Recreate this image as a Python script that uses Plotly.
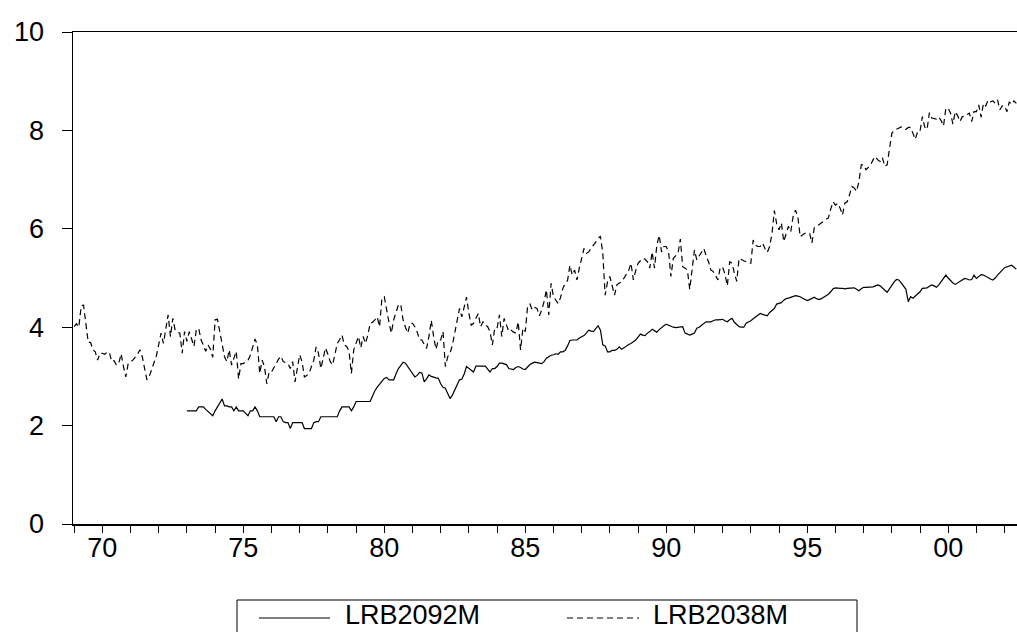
import plotly.graph_objects as go

# ---------------- data (monthly) ----------------
# LRB2038M : monthly, 1969M01 .. 2002M06
lrb2038m_start = (1969, 1)
lrb2038m = [
    # 1969
    4.01, 4.07, 4.00, 4.43, 4.45, 4.01, 3.69, 3.69, 3.54, 3.50, 3.33, 3.47,
    # 1970
    3.47, 3.45, 3.49, 3.49, 3.30, 3.32, 3.23, 3.26, 3.46, 3.20, 2.99, 3.26,
    # 1971
    3.30, 3.33, 3.39, 3.45, 3.54, 3.40, 3.16, 2.93, 3.00, 3.12, 3.28, 3.42,
    # 1972
    3.65, 3.88, 3.67, 4.00, 4.25, 3.81, 4.18, 3.94, 3.90, 3.88, 3.47, 3.91,
    # 1973
    3.71, 3.91, 3.75, 3.61, 3.94, 3.98, 3.75, 3.61, 3.51, 3.64, 3.55, 3.39,
    # 1974
    4.15, 4.16, 3.88, 3.60, 3.40, 3.30, 3.54, 3.23, 3.35, 3.51, 2.95, 3.26,
    # 1975
    3.26, 3.30, 3.33, 3.43, 3.60, 3.76, 3.64, 3.06, 3.33, 3.20, 2.85, 3.09,
    # 1976
    3.09, 3.18, 3.26, 3.35, 3.41, 3.30, 3.28, 3.26, 3.16, 3.30, 2.89, 3.20,
    # 1977
    3.44, 3.30, 2.99, 3.02, 3.06, 3.20, 3.33, 3.60, 3.47, 3.16, 3.40, 3.58,
    # 1978
    3.45, 3.30, 3.23, 3.45, 3.67, 3.75, 3.84, 3.64, 3.61, 3.51, 3.06, 3.54,
    # 1979
    3.70, 3.81, 3.58, 3.81, 3.67, 3.84, 4.08, 4.10, 4.15, 4.21, 4.01, 4.59,
    # 1980
    4.62, 4.32, 4.10, 3.88, 4.15, 4.30, 4.45, 4.47, 4.15, 4.00, 3.88, 4.08,
    # 1981
    4.08, 4.01, 3.90, 3.75, 3.74, 3.65, 3.57, 3.81, 4.14, 3.81, 3.55, 3.74,
    # 1982
    3.74, 3.91, 3.20, 3.40, 3.47, 3.64, 3.90, 4.15, 4.38, 4.21, 4.40, 4.61,
    # 1983
    4.28, 4.04, 4.08, 4.20, 4.28, 4.01, 4.11, 4.05, 4.01, 3.91, 3.64, 3.98,
    # 1984
    3.98, 4.25, 3.81, 4.18, 4.05, 3.91, 3.94, 3.90, 3.88, 4.11, 3.54, 3.98,
    # 1985
    3.91, 4.43, 4.47, 4.35, 4.40, 4.38, 4.23, 4.35, 4.52, 4.76, 4.25, 4.89,
    # 1986
    4.62, 4.55, 4.48, 4.60, 4.79, 4.89, 4.95, 5.26, 5.06, 5.16, 4.96, 5.20,
    # 1987
    5.40, 5.60, 5.50, 5.53, 5.60, 5.67, 5.74, 5.80, 5.85, 5.50, 4.65, 4.92,
    # 1988
    5.03, 4.85, 4.65, 4.86, 4.90, 4.92, 5.00, 5.09, 5.15, 5.30, 4.96, 5.15,
    # 1989
    5.30, 5.35, 5.40, 5.38, 5.33, 5.20, 5.53, 5.20, 5.67, 5.87, 5.53, 5.64,
    # 1990
    5.64, 5.53, 5.03, 5.40, 5.45, 5.50, 5.79, 5.23, 5.20, 5.16, 4.77, 5.16,
    # 1991
    5.57, 5.37, 5.45, 5.53, 5.60, 5.45, 5.33, 5.16, 5.13, 5.05, 4.96, 5.22,
    # 1992
    5.22, 5.08, 4.84, 5.33, 5.30, 5.10, 4.93, 5.40, 5.37, 5.35, 5.33, 5.30,
    # 1993
    5.30, 5.77, 5.67, 5.64, 5.64, 5.71, 5.60, 5.52, 5.64, 5.90, 6.37, 6.10,
    # 1994
    5.98, 6.12, 5.74, 5.90, 6.05, 5.94, 6.25, 6.38, 6.25, 5.84, 5.88, 5.91,
    # 1995
    5.91, 5.91, 5.71, 6.02, 6.05, 6.08, 6.12, 6.15, 6.19, 6.22, 6.40, 6.55,
    # 1996
    6.48, 6.52, 6.42, 6.28, 6.52, 6.55, 6.69, 6.86, 6.83, 6.76, 6.96, 7.30,
    # 1997
    7.30, 7.20, 7.25, 7.30, 7.40, 7.47, 7.40, 7.37, 7.45, 7.27, 7.30, 7.60,
    # 1998
    7.94, 8.00, 8.02, 8.04, 8.07, 8.05, 8.02, 8.06, 8.06, 7.94, 7.82, 7.98,
    # 1999
    7.98, 8.28, 8.07, 8.02, 8.36, 8.25, 8.24, 8.23, 8.27, 8.20, 8.09, 8.45,
    # 2000
    8.45, 8.35, 8.13, 8.38, 8.30, 8.18, 8.28, 8.29, 8.32, 8.35, 8.18, 8.38,
    # 2001
    8.38, 8.52, 8.27, 8.55, 8.50, 8.62, 8.58, 8.60, 8.55, 8.62, 8.42, 8.50,
    # 2002
    8.50, 8.38, 8.58, 8.53, 8.60, 8.55,
]

# LRB2092M : monthly, 1973M01 .. 2002M06
lrb2092m_start = (1973, 1)
lrb2092m = [
    # 1973
    2.30, 2.30, 2.30, 2.30, 2.30, 2.38, 2.38, 2.38, 2.33, 2.29, 2.25, 2.20,
    # 1974
    2.30, 2.38, 2.45, 2.54, 2.40, 2.40, 2.38, 2.38, 2.30, 2.38, 2.30, 2.30,
    # 1975
    2.30, 2.25, 2.20, 2.30, 2.30, 2.38, 2.30, 2.18, 2.18, 2.18, 2.18, 2.18,
    # 1976
    2.18, 2.18, 2.08, 2.18, 2.18, 2.08, 2.06, 2.06, 1.94, 2.06, 2.06, 2.06,
    # 1977
    2.06, 2.06, 1.94, 1.94, 1.94, 1.94, 2.06, 2.08, 2.08, 2.18, 2.18, 2.18,
    # 1978
    2.18, 2.18, 2.18, 2.18, 2.18, 2.30, 2.38, 2.38, 2.38, 2.38, 2.30, 2.38,
    # 1979
    2.49, 2.49, 2.49, 2.49, 2.49, 2.49, 2.49, 2.60, 2.71, 2.78, 2.85, 2.90,
    # 1980
    2.96, 2.98, 2.93, 2.93, 2.93, 3.05, 3.16, 3.22, 3.29, 3.27, 3.20, 3.14,
    # 1981
    3.05, 2.99, 3.02, 3.08, 3.07, 2.89, 2.95, 3.03, 3.00, 2.98, 2.97, 2.96,
    # 1982
    2.85, 2.78, 2.76, 2.65, 2.55, 2.62, 2.72, 2.83, 2.93, 2.94, 3.05, 3.20,
    # 1983
    3.16, 3.12, 3.09, 3.21, 3.21, 3.21, 3.21, 3.21, 3.15, 3.09, 3.16, 3.16,
    # 1984
    3.20, 3.27, 3.27, 3.25, 3.24, 3.16, 3.15, 3.14, 3.18, 3.20, 3.18, 3.15,
    # 1985
    3.14, 3.20, 3.24, 3.27, 3.29, 3.28, 3.27, 3.26, 3.30, 3.37, 3.40, 3.43,
    # 1986
    3.44, 3.46, 3.45, 3.50, 3.50, 3.53, 3.62, 3.73, 3.74, 3.74, 3.74, 3.78,
    # 1987
    3.81, 3.83, 3.88, 3.94, 3.92, 3.91, 3.97, 4.03, 3.94, 3.64, 3.62, 3.50,
    # 1988
    3.50, 3.53, 3.53, 3.55, 3.60, 3.55, 3.58, 3.62, 3.65, 3.67, 3.70, 3.74,
    # 1989
    3.80, 3.86, 3.84, 3.83, 3.88, 3.91, 3.96, 3.93, 3.90, 3.95, 4.00, 4.03,
    # 1990
    4.06, 4.04, 4.01, 4.00, 3.99, 4.00, 4.01, 4.01, 3.88, 3.86, 3.84, 3.86,
    # 1991
    3.88, 3.98, 4.00, 4.04, 4.08, 4.11, 4.11, 4.11, 4.13, 4.15, 4.15, 4.16,
    # 1992
    4.16, 4.13, 4.11, 4.15, 4.18, 4.10, 4.05, 4.01, 4.00, 4.00, 4.08, 4.10,
    # 1993
    4.13, 4.17, 4.21, 4.25, 4.28, 4.26, 4.25, 4.23, 4.30, 4.35, 4.38, 4.47,
    # 1994
    4.48, 4.50, 4.55, 4.58, 4.59, 4.61, 4.62, 4.64, 4.63, 4.62, 4.59, 4.56,
    # 1995
    4.54, 4.56, 4.58, 4.61, 4.58, 4.56, 4.58, 4.61, 4.63, 4.67, 4.72, 4.78,
    # 1996
    4.80, 4.79, 4.79, 4.79, 4.78, 4.79, 4.79, 4.80, 4.80, 4.77, 4.74, 4.78,
    # 1997
    4.81, 4.81, 4.81, 4.81, 4.82, 4.84, 4.86, 4.84, 4.79, 4.75, 4.71, 4.78,
    # 1998
    4.86, 4.92, 4.97, 4.96, 4.90, 4.84, 4.77, 4.52, 4.62, 4.59, 4.63, 4.67,
    # 1999
    4.72, 4.79, 4.80, 4.80, 4.83, 4.86, 4.84, 4.81, 4.86, 4.92, 4.99, 5.06,
    # 2000
    5.00, 4.94, 4.90, 4.87, 4.90, 4.92, 4.95, 4.99, 4.98, 4.96, 4.97, 5.06,
    # 2001
    4.99, 5.03, 5.07, 5.06, 5.03, 5.01, 4.98, 4.96, 5.00, 5.06, 5.12, 5.16,
    # 2002
    5.21, 5.23, 5.25, 5.26, 5.22, 5.18,
]

series_names = ["LRB2092M", "LRB2038M"]
x_tick_years = [1970, 1975, 1980, 1985, 1990, 1995, 2000]
x_tick_labels = ["70", "75", "80", "85", "90", "95", "00"]
y_tick_values = [0, 2, 4, 6, 8, 10]


def monthly_axis(start, n):
    y0, m0 = start
    return [y0 + (m0 - 1 + i) / 12.0 for i in range(n)]


FONT = "Liberation Sans, Arial, Helvetica, sans-serif"
FS = 27
W, H = 1017, 632
ML, MR, MT, MB = 73, 0, 32, 108
PW, PH = W - ML - MR, H - MT - MB
DASH = "6px,4px"


def px_x(p):  # pixel -> paper x
    return (p - ML) / PW


def px_y(p):  # pixel -> paper y
    return (H - MB - p) / PH


fig = go.Figure()
fig.add_trace(go.Scatter(
    x=monthly_axis(lrb2092m_start, len(lrb2092m)), y=lrb2092m,
    mode="lines", name=series_names[0],
    line=dict(color="black", width=1.2),
))
fig.add_trace(go.Scatter(
    x=monthly_axis(lrb2038m_start, len(lrb2038m)), y=lrb2038m,
    mode="lines", name=series_names[1],
    line=dict(color="black", width=1.2, dash=DASH),
))

# ---- legend box (drawn, EViews style) ----
shapes = [
    dict(type="rect", xref="paper", yref="paper",
         x0=px_x(237), x1=px_x(857), y0=px_y(600), y1=px_y(660),
         line=dict(color="black", width=1), fillcolor="rgba(0,0,0,0)"),
    dict(type="line", xref="paper", yref="paper",
         x0=px_x(259), x1=px_x(330), y0=px_y(618), y1=px_y(618),
         line=dict(color="black", width=1)),
    dict(type="line", xref="paper", yref="paper",
         x0=px_x(567), x1=px_x(639), y0=px_y(618), y1=px_y(618),
         line=dict(color="black", width=1, dash=DASH)),
]
annotations = [
    dict(text=series_names[0], xref="paper", yref="paper",
         x=px_x(343), y=px_y(632), xanchor="left", yanchor="bottom",
         showarrow=False, font=dict(family=FONT, size=FS, color="black")),
    dict(text=series_names[1], xref="paper", yref="paper",
         x=px_x(651), y=px_y(632), xanchor="left", yanchor="bottom",
         showarrow=False, font=dict(family=FONT, size=FS, color="black")),
]

fig.update_layout(
    width=W, height=H, autosize=False,
    margin=dict(l=ML, r=MR, t=MT, b=MB, pad=0),
    paper_bgcolor="white", plot_bgcolor="white",
    font=dict(family=FONT, size=FS, color="black"),
    showlegend=False,
    shapes=shapes,
    annotations=annotations,
    xaxis=dict(
        range=[1968.96, 2002.44], automargin=False,
        tickmode="array", tickvals=x_tick_years, ticktext=x_tick_labels,
        ticks="outside", ticklen=7, tickwidth=1, tickcolor="black",
        ticklabelstandoff=-8,
        minor=dict(dtick=1, tick0=1969, ticks="outside", ticklen=7,
                   tickwidth=1, tickcolor="black", showgrid=False),
        showline=True, linecolor="black", linewidth=1.5, mirror=True,
        showgrid=False, zeroline=False,
        tickfont=dict(family=FONT, size=FS, color="black"),
    ),
    yaxis=dict(
        range=[0, 10], automargin=False,
        tickmode="array", tickvals=y_tick_values,
        ticks="outside", ticklen=10, tickwidth=1, tickcolor="black",
        ticklabelstandoff=12,
        showline=True, linecolor="black", linewidth=1.5, mirror=False,
        showgrid=False, zeroline=False,
        tickfont=dict(family=FONT, size=FS, color="black"),
    ),
)

# remove the browser's default 8px page margin so the figure sits at (0, 0)
fig.write_html(
    "out.html",
    config={"displayModeBar": False, "staticPlot": True},
    post_script="document.body.style.margin='0px';"
                "document.body.style.overflow='hidden';",
)
